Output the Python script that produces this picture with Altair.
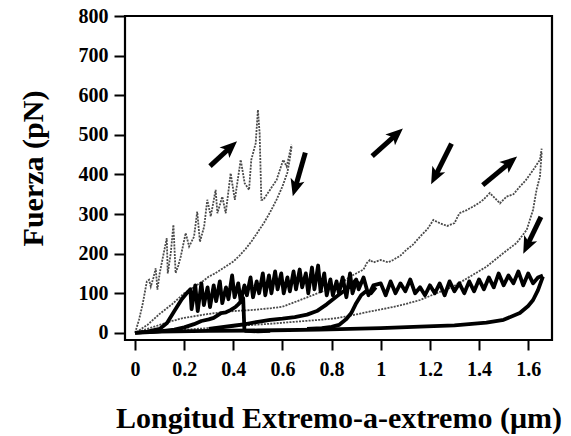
import math
import altair as alt
import pandas as pd

X_DOMAIN = [-0.041, 1.697]
Y_DOMAIN = [-18, 800]
PLOT_W, PLOT_H = 427, 324

x_ticks = [0, 0.2, 0.4, 0.6, 0.8, 1.0, 1.2, 1.4, 1.6]
y_ticks = [0, 100, 200, 300, 400, 500, 600, 700, 800]

# gray pull, left (sawtooth)
a_x = [0.0, 0.016, 0.03, 0.048, 0.057, 0.064, 0.075, 0.084, 0.091, 0.1, 0.111, 0.129, 0.133, 0.145,
       0.156, 0.165, 0.176, 0.186, 0.206, 0.22, 0.24, 0.253, 0.264, 0.281, 0.294, 0.308, 0.328, 0.335,
       0.355, 0.369, 0.389, 0.406, 0.43, 0.446, 0.464, 0.473, 0.491, 0.5, 0.507, 0.514, 0.522, 0.549,
       0.576, 0.603, 0.617, 0.637]
a_y = [0, 33, 70, 130, 134, 117, 140, 163, 109, 150, 184, 239, 150, 200,
       273, 151, 170, 193, 252, 218, 243, 306, 230, 268, 336, 294, 361, 302,
       344, 302, 403, 336, 437, 378, 361, 437, 479, 563, 504, 336, 336, 361,
       386, 437, 420, 475]

# gray retract, left (smooth)
b_x = [0.637, 0.63, 0.62, 0.6, 0.575, 0.55, 0.525, 0.5, 0.475, 0.45, 0.425, 0.4, 0.375, 0.35,
       0.325, 0.3, 0.275, 0.25, 0.225, 0.2, 0.175, 0.15, 0.125, 0.1, 0.075, 0.05, 0.025, 0.005]
b_y = [470, 440, 405, 370, 335, 305, 278, 255, 232, 212, 195, 180, 170, 160,
       150, 142, 130, 120, 110, 100, 86, 72, 60, 48, 34, 20, 10, 0]

# black plateau, first
c_x = [0.0, 0.05, 0.1, 0.13, 0.16, 0.19, 0.21, 0.225, 0.23, 0.245, 0.255, 0.27, 0.28, 0.295, 0.305,
       0.32, 0.33, 0.345, 0.355, 0.37, 0.38, 0.395, 0.405, 0.42, 0.43, 0.445, 0.455, 0.47, 0.48, 0.495,
       0.505, 0.52, 0.53, 0.545, 0.555, 0.57, 0.58, 0.595, 0.605, 0.62, 0.63, 0.645, 0.655, 0.67, 0.68,
       0.695, 0.705, 0.72, 0.73, 0.745, 0.755, 0.77, 0.78, 0.795, 0.805, 0.82, 0.83, 0.845, 0.86, 0.875,
       0.885, 0.9, 0.92]
c_y = [0, 3, 10, 25, 55, 85, 100, 110, 60, 120, 55, 125, 70, 115, 65,
       120, 80, 130, 75, 115, 85, 145, 90, 125, 80, 120, 95, 140, 90, 130,
       100, 150, 95, 145, 100, 155, 110, 150, 100, 140, 105, 155, 110, 160, 115,
       150, 100, 165, 110, 170, 105, 150, 95, 135, 95, 130, 100, 140, 90, 150,
       100, 130, 120]

# black pull with rupture near 0.44
d_x = [0.05, 0.1, 0.16, 0.2, 0.24, 0.27, 0.3, 0.32, 0.35, 0.37, 0.39, 0.41, 0.42, 0.435, 0.44,
       0.445, 0.45, 0.5, 0.55]
d_y = [2, 4, 8, 14, 22, 30, 34, 38, 50, 52, 58, 66, 72, 82, 88, 8, 5, 4, 5]

# black rise into second plateau
e_x = [0.3, 0.4, 0.45, 0.5, 0.55, 0.6, 0.65, 0.7, 0.74, 0.78, 0.82, 0.86, 0.88, 0.9, 0.91, 0.93,
       0.95, 0.97, 1.0, 1.02, 1.04, 1.06, 1.08, 1.1, 1.12, 1.14, 1.16, 1.18, 1.2, 1.22, 1.24, 1.26,
       1.28, 1.3, 1.32, 1.34, 1.36, 1.38, 1.4, 1.42, 1.44, 1.46, 1.48, 1.5, 1.52, 1.54, 1.56, 1.58,
       1.6, 1.62, 1.64, 1.66]
e_y = [10, 18, 22, 28, 33, 36, 40, 46, 55, 72, 92, 110, 120, 135, 110, 140,
       95, 120, 125, 95, 130, 100, 125, 105, 135, 100, 115, 95, 120, 100, 125, 95,
       130, 105, 125, 100, 130, 105, 135, 110, 140, 115, 150, 120, 145, 125, 155, 120,
       150, 125, 140, 145]

# black second rise (short)
f_x = [0.7, 0.76, 0.8, 0.83, 0.86, 0.88, 0.9, 0.92, 0.94, 0.96, 0.98]
f_y = [10, 12, 15, 20, 35, 50, 75, 95, 105, 100, 115]

# black bottom retract
g_x = [0.0, 0.1, 0.3, 0.5, 0.75, 1.0, 1.16, 1.3, 1.43, 1.5, 1.566, 1.6, 1.62, 1.64, 1.66]
g_y = [0, 3, 5, 6, 8, 12, 16, 19, 26, 33, 50, 68, 83, 108, 142]

# gray pull, right
h_x = [0.0, 0.05, 0.1, 0.15, 0.2, 0.3, 0.4, 0.48, 0.55, 0.6, 0.66, 0.71, 0.76, 0.81, 0.85, 0.875,
       0.9, 0.93, 0.943, 0.956, 0.97, 1.0, 1.03, 1.05, 1.08, 1.105, 1.13, 1.16, 1.19, 1.214, 1.24,
       1.27, 1.3, 1.32, 1.35, 1.376, 1.4, 1.417, 1.444, 1.465, 1.485, 1.512, 1.54, 1.566, 1.59, 1.62,
       1.635, 1.648, 1.655]
h_y = [0, 10, 20, 30, 38, 48, 55, 58, 62, 66, 80, 92, 104, 117, 130, 142,
       150, 160, 176, 184, 178, 184, 178, 184, 195, 210, 222, 243, 262, 285, 277,
       270, 277, 302, 310, 319, 328, 336, 353, 340, 327, 344, 350, 369, 385, 411,
       425, 437, 465]

# gray retract, right
i_x = [1.655, 1.648, 1.634, 1.62, 1.594, 1.553, 1.498, 1.43, 1.363, 1.295, 1.227, 1.16, 1.09,
       1.024, 0.956, 0.888, 0.82, 0.753, 0.65, 0.55, 0.45, 0.35, 0.25, 0.15, 0.05, 0.0]
i_y = [455, 395, 361, 311, 260, 227, 201, 167, 142, 117, 100, 83, 71,
       62, 54, 45, 37, 33, 28, 23, 19, 14, 10, 6, 3, 0]

# arrows (tail -> tip), data units
arr_x1 = [0.305, 0.693, 0.965, 1.288, 1.415, 1.652]
arr_y1 = [421, 455, 446, 478, 373, 293]
arr_x2 = [0.415, 0.642, 1.09, 1.205, 1.555, 1.58]
arr_y2 = [484, 345, 516, 375, 445, 200]

curves = [
    ("a", "gray", a_x, a_y), ("b", "gray", b_x, b_y),
    ("h", "gray", h_x, h_y), ("i", "gray", i_x, i_y),
    ("c", "black", c_x, c_y), ("d", "black", d_x, d_y),
    ("e", "black", e_x, e_y), ("f", "black", f_x, f_y),
    ("g", "black", g_x, g_y),
]
rows = []
for name, style, xs, ys in curves:
    for k, (xv, yv) in enumerate(zip(xs, ys)):
        rows.append({"series": name, "style": style, "x": xv, "y": yv, "k": k})
lines = pd.DataFrame(rows)

sx = PLOT_W / (X_DOMAIN[1] - X_DOMAIN[0])
sy = PLOT_H / (Y_DOMAIN[1] - Y_DOMAIN[0])
HEAD_R = 9
arows = []
for x1, y1, x2, y2 in zip(arr_x1, arr_y1, arr_x2, arr_y2):
    dxp = (x2 - x1) * sx
    dyp = -(y2 - y1) * sy
    L = math.hypot(dxp, dyp)
    ux, uy = dxp / L, dyp / L
    hx = x2 - ux * HEAD_R / sx
    hy = y2 + uy * HEAD_R / sy
    ang = math.degrees(math.atan2(ux, -uy)) % 360
    arows.append({"x1": x1, "y1": y1, "hx": hx, "hy": hy, "angle": ang})
arrows = pd.DataFrame(arows)

FONT = "Liberation Serif"
xscale = alt.Scale(domain=X_DOMAIN, nice=False, zero=False)
yscale = alt.Scale(domain=Y_DOMAIN, nice=False, zero=False)

xaxis = alt.Axis(values=x_ticks, format=".1~f", title="Longitud Extremo-a-extremo (μm)",
                 tickSize=10, labelPadding=9, titleY=87, titleBaseline="alphabetic",
                 labelOverlap=False)
yaxis = alt.Axis(values=y_ticks, title="Fuerza (pN)", tickSize=11, labelPadding=6,
                 titleX=-83, titleY=152, titleAngle=270, titleAlign="center",
                 titleBaseline="alphabetic", labelOverlap=False)

gray = alt.Chart(lines).transform_filter(alt.datum.style == "gray").mark_line(
    color="#4a4a4a", strokeWidth=1.8, strokeDash=[2, 1.2]
).encode(
    x=alt.X("x:Q", scale=xscale, axis=xaxis),
    y=alt.Y("y:Q", scale=yscale, axis=yaxis),
    detail="series:N",
    order="k:Q",
)

black = alt.Chart(lines).transform_filter(alt.datum.style == "black").mark_line(
    color="#000000", strokeWidth=3.8, strokeJoin="round"
).encode(
    x=alt.X("x:Q", scale=xscale, axis=xaxis),
    y=alt.Y("y:Q", scale=yscale, axis=yaxis),
    detail="series:N",
    order="k:Q",
)

shafts = alt.Chart(arrows).mark_rule(color="black", strokeWidth=5).encode(
    x=alt.X("x1:Q", scale=xscale, axis=xaxis),
    y=alt.Y("y1:Q", scale=yscale, axis=yaxis),
    x2="hx:Q",
    y2="hy:Q",
)

heads = alt.Chart(arrows).mark_point(
    shape="M0,-1L0.8,0.9L0,0.45L-0.8,0.9Z", filled=True, color="black", opacity=1,
    size=(2 * HEAD_R) ** 2, strokeWidth=0
).encode(
    x=alt.X("hx:Q", scale=xscale, axis=xaxis),
    y=alt.Y("hy:Q", scale=yscale, axis=yaxis),
    angle=alt.Angle("angle:Q", scale=None),
)

chart = alt.layer(gray, black, shafts, heads).properties(
    width=PLOT_W, height=PLOT_H,
    padding={"left": 125, "top": 16, "right": 19, "bottom": 96},
    autosize=alt.AutoSizeParams(type="none"),
    background="white",
).configure_view(
    stroke="black", strokeWidth=2.2
).configure_axis(
    domain=False, grid=False, tickColor="black", tickWidth=2,
    labelFont=FONT, labelFontSize=20, labelFontWeight="bold", labelColor="black",
    titleFont=FONT, titleFontSize=30, titleFontWeight="bold", titleColor="black",
)

chart.save("out.html", embed_options={"renderer": "svg", "actions": False})
